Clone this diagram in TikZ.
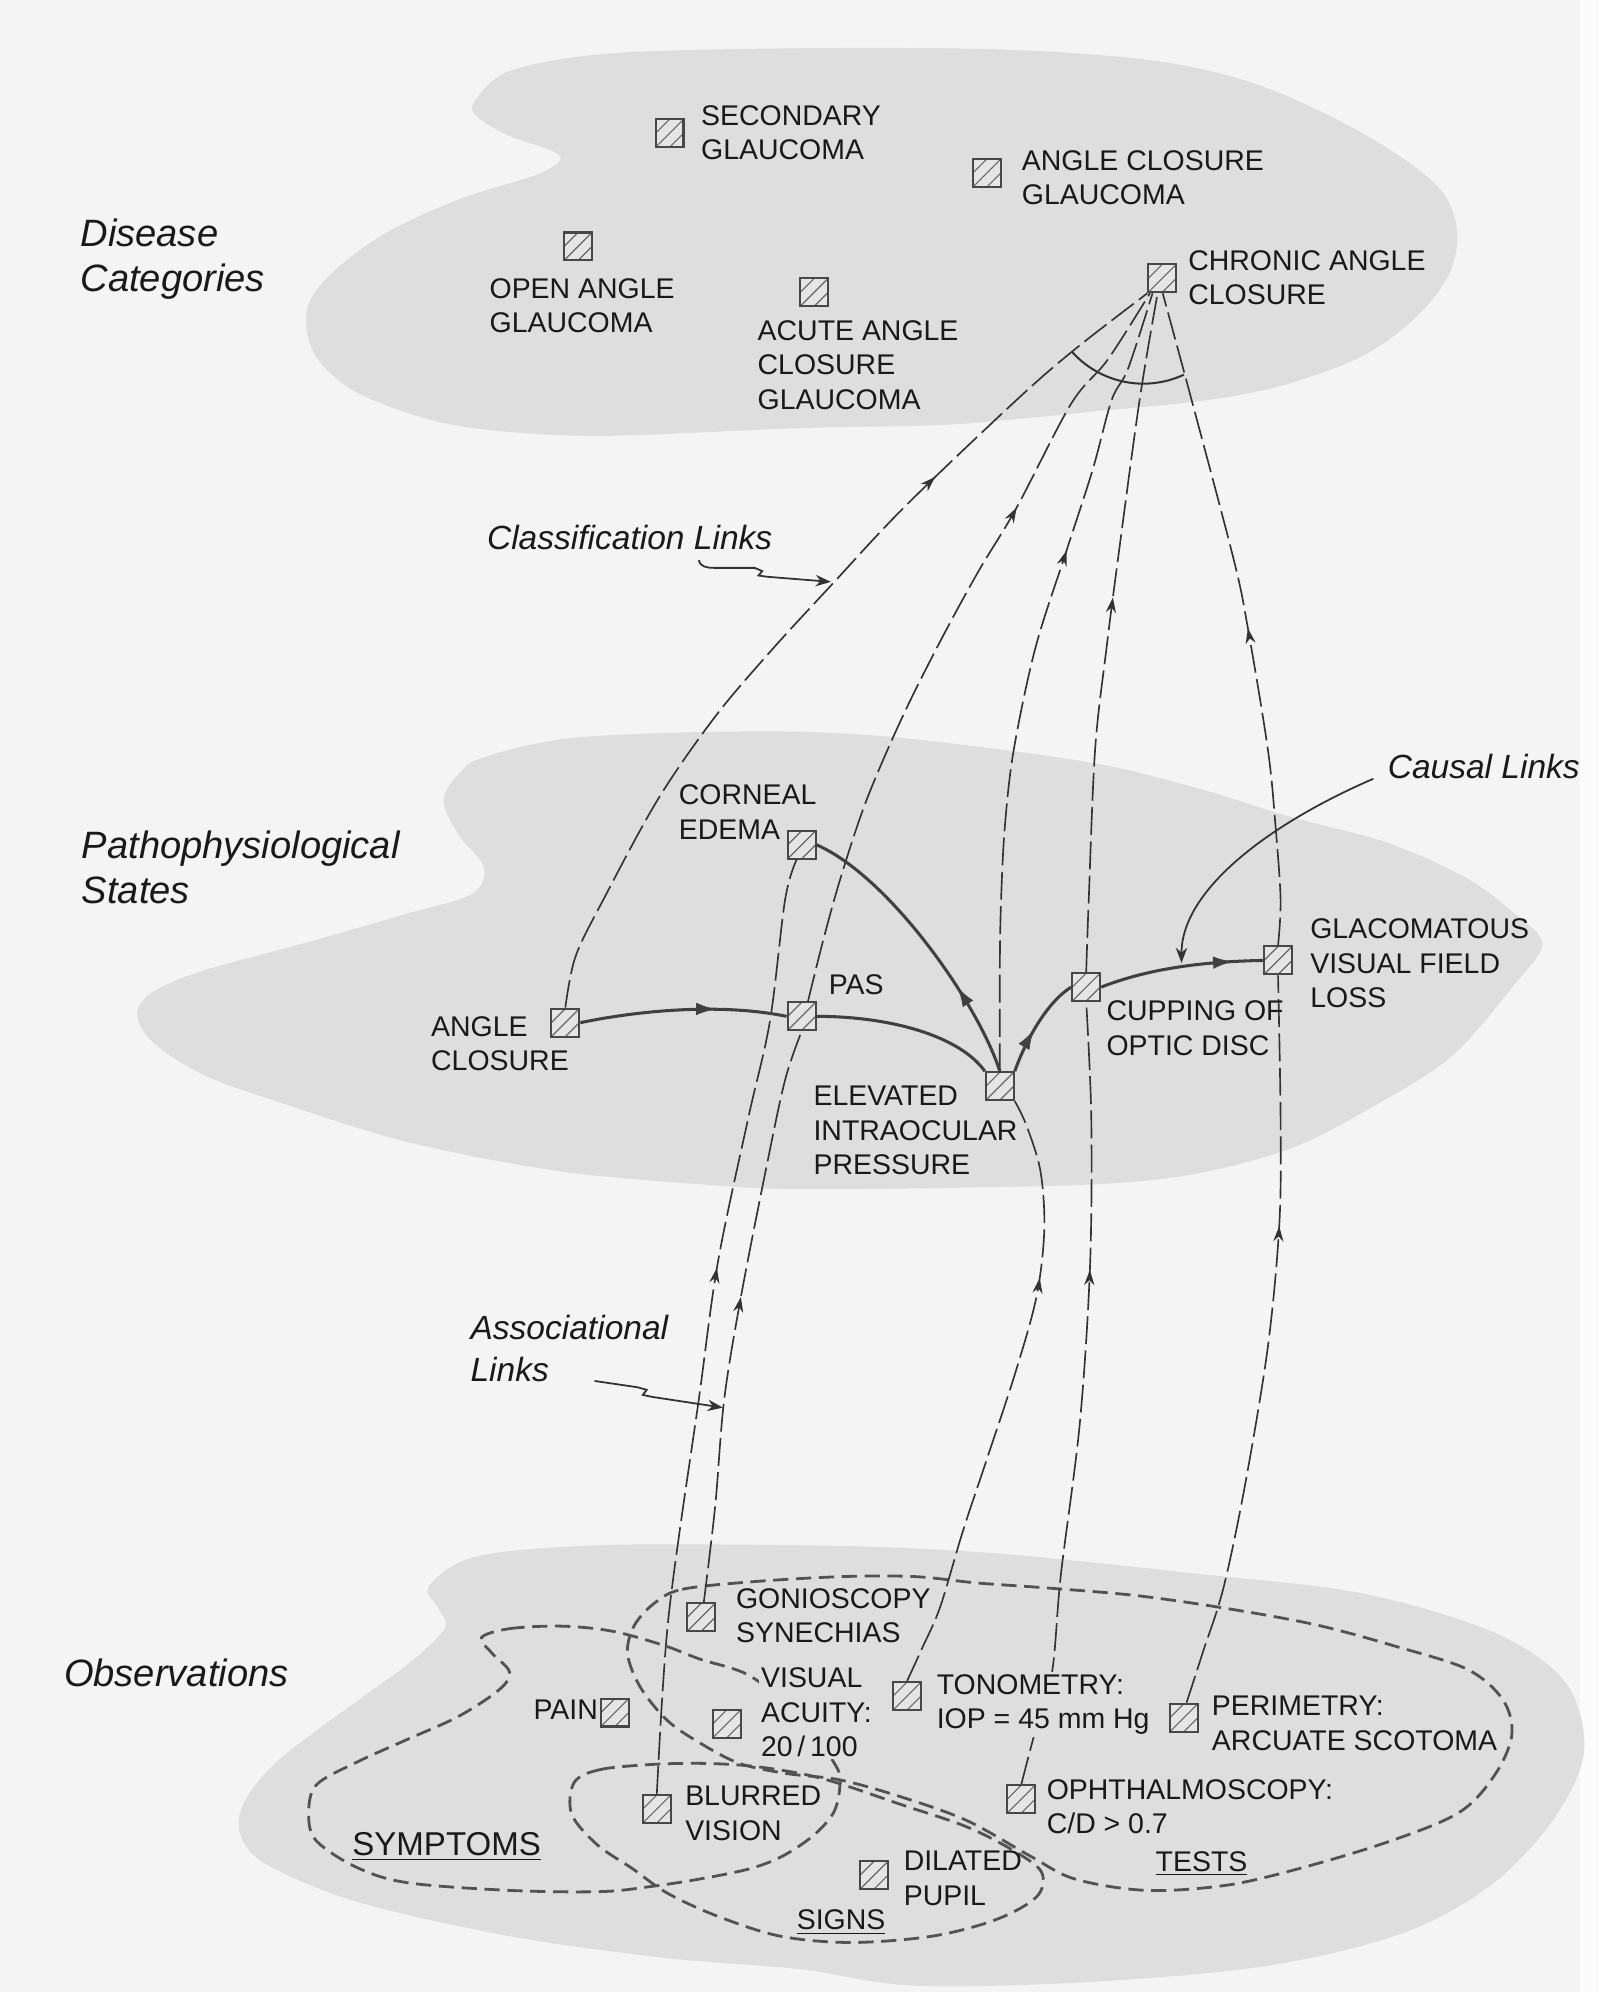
\documentclass[tikz,border=0pt]{standalone}
\usepackage{fontspec}
\setmainfont{Liberation Sans}
\usetikzlibrary{arrows.meta,decorations.markings}
\definecolor{pagebg}{gray}{0.955}
\definecolor{blobc}{gray}{0.872}
\definecolor{ink}{gray}{0.1}
\begin{document}
\begin{tikzpicture}[x=0.5pt,y=-0.5pt,
  every node/.style={inner sep=0pt, text=ink},
  capl/.style={font=\fontsize{11.2}{13.5}\selectfont, align=left, anchor=north west},
  catl/.style={font=\fontsize{15}{17.5}\selectfont\itshape, align=left, anchor=north west},
  lnkl/.style={font=\fontsize{13.2}{16.5}\selectfont\itshape, align=left, anchor=north west},
  hatchln/.style={draw=black!60, line width=0.45pt},
  hbox/.style={draw=black!72, line width=0.8pt, fill=black!10, minimum size=11pt, inner sep=0pt,
    path picture={
      \path[hatchln] (path picture bounding box.south west) -- (path picture bounding box.north east);
      \path[hatchln] ([yshift=5.5pt]path picture bounding box.south west) -- ([xshift=-5.5pt]path picture bounding box.north east);
      \path[hatchln] ([xshift=5.5pt]path picture bounding box.south west) -- ([yshift=-5.5pt]path picture bounding box.north east);
    }},
  blob/.style={fill=blobc},
  outl/.style={draw=black!68, line width=1.1pt, dash pattern=on 6pt off 3pt},
  clink/.style={draw=black!80, line width=0.65pt, dash pattern=on 11pt off 2.5pt},
  causal/.style={draw=black!75, line width=1.2pt},
  midarrow/.style={postaction={decorate}, decoration={markings, mark=at position #1 with {\arrow{Stealth[length=6pt,width=4pt]}}}},
  midtri/.style={postaction={decorate}, decoration={markings, mark=at position #1 with {\arrow{Latex[length=8pt,width=5pt]}}}},
  pointer/.style={draw=black!80, line width=0.7pt, -{Stealth[length=6pt,width=4.5pt]}},
]
% ---------- background ----------
\useasboundingbox (0,0) rectangle (1259,1568);
\fill[pagebg] (0,0) rectangle (1259,1568);
\fill[black!1.5] (1244,0) rectangle (1259,1568);

% ---------- blobs ----------
\fill[blob] plot[smooth cycle, tension=0.55] coordinates {(373,81) (401,56) (481,42) (629,38) (790,39) (910,48) (991,67) (1071,104) (1131,146) (1147,183) (1139,219) (1111,253) (1071,281) (1011,303) (950,315) (870,323) (750,334) (629,337) (481,343) (401,340) (341,331) (281,309) (249,281) (241,247) (257,219) (301,185) (361,157) (421,138) (441,126) (433,118) (401,107) (377,93)};
\fill[blob] plot[smooth cycle, tension=0.55] coordinates {(349,630) (362,608) (381,596) (441,582) (522,577) (629,576) (721,582) (857,600) (941,620) (1016,643) (1091,663) (1154,691) (1192,719) (1214,743) (1192,775) (1142,832) (1079,872) (1016,904) (941,924) (866,932) (750,935) (629,936) (562,933) (441,922) (321,899) (221,868) (160,846) (120,820) (108,798) (120,781) (160,764) (241,742) (321,719) (371,704) (381,683) (361,657)};
\fill[blob] plot[smooth cycle, tension=0.55] coordinates {(337,1250) (361,1230) (401,1221) (482,1216) (600,1216) (700,1218) (800,1224) (935,1238) (1071,1254) (1176,1285) (1232,1324) (1247,1377) (1225,1429) (1176,1482) (1106,1521) (1000,1547) (860,1560) (720,1563) (629,1550) (522,1541) (401,1524) (281,1497) (209,1467) (189,1443) (193,1417) (221,1384) (281,1339) (321,1310) (350,1282) (345,1266)};

% ---------- group outlines ----------
\draw[outl] plot[smooth cycle, tension=0.55] coordinates {(515,1262) (537,1251) (593,1245) (663,1241) (720,1241) (769,1246) (825,1250) (895,1256) (965,1266) (1036,1279) (1099,1296) (1155,1314) (1183,1338) (1190,1366) (1176,1398) (1148,1427) (1092,1450) (1022,1471) (965,1484) (902,1488) (846,1479) (811,1461) (761,1433) (708,1414) (661,1401) (619,1396) (582,1388) (551,1372) (525,1354) (504,1328) (494,1302) (499,1280)};
\draw[outl] plot[smooth cycle, tension=0.55] coordinates {(452,1403) (472,1393) (511,1389) (551,1388) (590,1390) (630,1396) (661,1404) (708,1420) (761,1438) (800,1458) (820,1474) (816,1493) (784,1511) (734,1524) (670,1529) (614,1524) (564,1508) (525,1490) (498,1471) (470,1452) (450,1428)};
\draw[outl] plot[smooth cycle, tension=0.55] coordinates {(379,1289) (401,1282) (442,1280) (482,1284) (522,1295) (551,1306) (590,1319) (628,1350) (658,1390) (661,1407) (656,1427) (640,1445) (616,1461) (590,1471) (551,1479) (512,1485) (472,1489) (401,1488) (321,1482) (281,1470) (249,1449) (243,1428) (249,1405) (281,1387) (321,1369) (361,1351) (393,1330) (401,1316) (387,1301)};

% ---------- concept boxes ----------
\node[hbox] (SEC) at (527,105) {};
\node[hbox] (ACG) at (777,136) {};
\node[hbox] (OAG) at (455,194) {};
\node[hbox] (AACG) at (641,230) {};
\node[hbox] (CAC) at (915,219) {};
\node[hbox] (CE) at (631,665) {};
\node[hbox] (PAS) at (631,800) {};
\node[hbox] (AC) at (445,805) {};
\node[hbox] (EIOP) at (787,855) {};
\node[hbox] (CUP) at (855,777) {};
\node[hbox] (GVFL) at (1006,756) {};
\node[hbox] (GON) at (552,1273) {};
\node[hbox] (PAIN) at (484,1348) {};
\node[hbox] (VA) at (572,1357) {};
\node[hbox] (TONO) at (714,1335) {};
\node[hbox] (PERIM) at (932,1352) {};
\node[hbox] (BLUR) at (517,1424) {};
\node[hbox] (OPH) at (804,1416) {};
\node[hbox] (DIL) at (688,1476) {};

% ---------- classification links ----------
\draw[clink, midarrow=0.70] plot[smooth, tension=0.55] coordinates {(AC.north) (453,753) (475,708) (518,629) (563,564) (608,511) (654,461) (712,399) (800,315) (846,275) (CAC.south west)};
\draw[clink, midarrow=0.68] plot[smooth, tension=0.55] coordinates {([xshift=2.5pt]PAS.north) (648,740) (662,690) (682,630) (710,565) (740,505) (770,450) (800,400) (843,318) (872,283) ([xshift=1pt]CAC.south west)};
\draw[clink, midarrow=0.66] plot[smooth, tension=0.55] coordinates {(EIOP.north) (787,760) (788,708) (791,650) (798,590) (815,510) (839,435) (860,370) (875,315) (888,290) ([xshift=2pt]CAC.south west)};
\draw[clink, midarrow=0.55] plot[smooth, tension=0.55] coordinates {(CUP.north) (857,708) (862,590) (871,510) (880,440) (897,315) ([xshift=4pt]CAC.south west)};
\draw[clink, midarrow=0.48] plot[smooth, tension=0.55] coordinates {(GVFL.north) (1008,708) (1004,650) (998,590) (982,493) (971,440) (938,315) ([xshift=6pt]CAC.south west)};
\coordinate (fanc) at (900,226.5);
\draw[black!80, line width=0.8pt] ([shift={(222:37.75pt)}]fanc) arc[start angle=222, end angle=295, radius=37.75pt];

% ---------- associational links ----------
\draw[clink, midarrow=0.56] plot[smooth, tension=0.55] coordinates {(BLUR.north) (521,1340) (526,1275) (535,1205) (550,1102) (565,994) (589,880) (606,804) (618,708) ([xshift=-2pt]CE.south)};
\draw[clink, midarrow=0.53] plot[smooth, tension=0.55] coordinates {([xshift=1pt]GON.north) (563,1185) (570,1102) (583,1022) (603,920) (618,850) (PAS.south)};
\draw[clink, midarrow=0.70] plot[smooth, tension=0.55] coordinates {(TONO.north) (726,1297) (740,1265) (758,1205) (777,1148) (800,1078) (816,1020) (822,968) (819,922) (808,886) (EIOP.south east)};
\draw[clink, midarrow=0.66] plot[smooth, tension=0.55] coordinates {(OPH.north) (814,1366) (828,1317) (835,1240) (850,1120) (858,997) (859,880) (CUP.south)};
\draw[clink, midarrow=0.66] plot[smooth, tension=0.55] coordinates {([xshift=1pt]PERIM.north) (947,1300) (963,1250) (980,1169) (998,1060) (1007,964) (1008,880) (GVFL.south)};

% ---------- causal links ----------
\draw[causal, midtri=0.66] (AC.east) .. controls (500,796) and (565,789) .. (PAS.west);
\draw[causal] (PAS.east) .. controls (700,800) and (755,815) .. (EIOP.north west);
\draw[causal, midtri=0.32] (EIOP.north) .. controls (770,790) and (700,690) .. (CE.east);
\draw[causal, midtri=0.45] (EIOP.north east) .. controls (805,825) and (822,790) .. (CUP.west);
\draw[causal, midtri=0.82] (CUP.east) .. controls (900,764) and (940,757) .. (GVFL.west);

% ---------- label pointers ----------
\coordinate (clsA) at (550,441);
\coordinate (clsB) at (654,458);
\draw[pointer] (clsA) to[out=-80,in=180] (562,447) -- (594,447) -- (600,449.5) -- (597,453) -- (604,454) -- (clsB);
\coordinate (assA) at (468,1087);
\coordinate (assB) at (569,1108);
\draw[pointer] (assA) -- (502,1092) -- (509,1094) -- (506,1098) -- (513,1099.5) -- (assB);
\coordinate (cauA) at (1081,613);
\coordinate (cauB) at (930,758);
\draw[pointer] (cauA) .. controls (1000,648) and (930,700) .. (cauB);

% ---------- texts ----------
\node[capl] (tSEC) at (551.5,82.5) {SECONDARY\\GLAUCOMA};
\node[capl] (tACG) at (804,118) {ANGLE CLOSURE\\GLAUCOMA};
\node[capl] (tOAG) at (385,219) {OPEN ANGLE\\GLAUCOMA};
\node[capl] (tAACG) at (596,252) {ACUTE ANGLE\\CLOSURE\\GLAUCOMA};
\node[capl] (tCAC) at (935,197) {CHRONIC ANGLE\\CLOSURE};
\node[capl] (tCE) at (534,617.6) {CORNEAL\\EDEMA};
\node[capl] (tPAS) at (652,767) {PAS};
\node[capl] (tAC) at (339,799.7) {ANGLE\\CLOSURE};
\node[capl] (tEIOP) at (640,854.7) {ELEVATED\\INTRAOCULAR\\PRESSURE};
\node[capl] (tCUP) at (870.6,787.6) {CUPPING OF\\OPTIC DISC};
\node[capl] (tGVFL) at (1031,723) {GLACOMATOUS\\VISUAL FIELD\\LOSS};
\node[capl] (tGON) at (579,1249.7) {GONIOSCOPY\\SYNECHIAS};
\node[capl, anchor=north east] (tPAIN) at (471,1337.5) {PAIN};
\node[capl, fill=blobc, inner sep=1pt] (tVA) at (596.7,1310.6) {VISUAL\\ACUITY:\\20\,/\,100};
\node[capl, fill=blobc, inner sep=1pt] (tTONO) at (735,1315.8) {TONOMETRY:\\IOP = 45 mm Hg};
\node[capl] (tPERIM) at (953.6,1334.8) {PERIMETRY:\\ARCUATE SCOTOMA};
\node[capl] (tBLUR) at (539,1405.6) {BLURRED\\VISION};
\node[capl] (tOPH) at (823.6,1400.3) {OPHTHALMOSCOPY:\\C/D > 0.7};
\node[capl] (tDIL) at (711,1456.7) {DILATED\\PUPIL};
\node[capl] (tSIGNS) at (626.8,1502.5) {\underline{SIGNS}};
\node[capl] (tTESTS) at (909.3,1456.7) {\underline{TESTS}};
\node[capl, font=\fontsize{13}{15}\selectfont] (tSYM) at (277,1442.3) {\underline{SYMPTOMS}};

\node[catl] (tDC) at (63,172) {Disease\\Categories};
\node[catl] (tPS) at (64,654) {Pathophysiological\\States};
\node[catl] (tOBS) at (50,1305) {Observations};
\node[lnkl] (tCL) at (383,412.7) {Classification Links};
\node[lnkl] (tCaL) at (1092,593.5) {Causal Links};
\node[lnkl] (tAL) at (370,1035) {Associational\\Links};
\end{tikzpicture}
\end{document}
